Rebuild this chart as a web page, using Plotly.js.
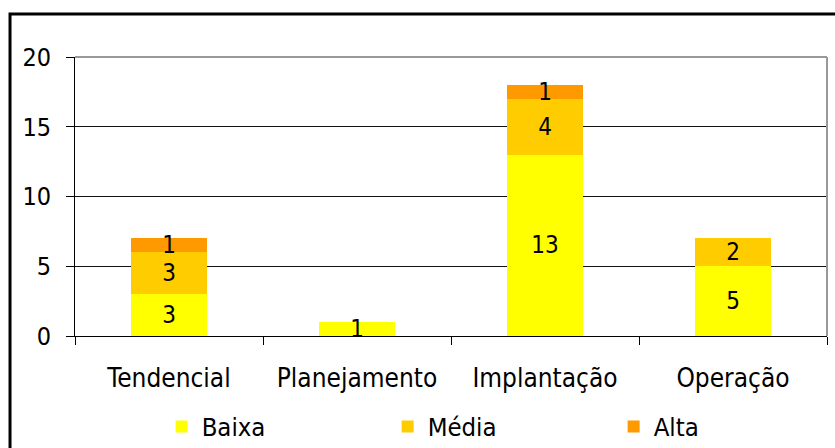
<!DOCTYPE html>
<html>
<head>
<meta charset="utf-8">
<script src="https://cdn.plot.ly/plotly-3.0.1.min.js"></script>
<style>
html,body{margin:0;padding:0;background:#fff;}
#chart{width:835px;height:448px;}
</style>
</head>
<body>
<div id="chart"></div>
<script>
var categories = ['Tendencial', 'Planejamento', 'Implantação', 'Operação'];
var seriesNames = ['Baixa', 'Média', 'Alta'];
var baixa = [3, 1, 13, 5];
var media = [3, 0, 4, 2];
var alta = [1, 0, 1, 0];
var yTicks = [0, 5, 10, 15, 20];
var colors = ['#FFFF00', '#FFCC00', '#FF9900'];

var FONT = '"DejaVu Sans Condensed", "DejaVu Sans", sans-serif';
var values = [baixa, media, alta];

var traces = values.map(function (vals, i) {
  return {
    type: 'bar',
    name: seriesNames[i],
    x: categories,
    y: vals,
    text: vals.map(function (v) { return v ? String(v) : ''; }),
    textposition: 'inside',
    insidetextanchor: 'middle',
    constraintext: 'none',
    textangle: 0,
    insidetextfont: {family: FONT, size: 24, color: '#000'},
    marker: {color: colors[i], line: {width: 0}},
    hoverinfo: 'none'
  };
});

var layout = {
  width: 835,
  height: 448,
  barmode: 'stack',
  bargap: 0.596,
  paper_bgcolor: '#fff',
  plot_bgcolor: '#fff',
  margin: {l: 75, r: 8, t: 57, b: 112, pad: 0, autoexpand: false},
  font: {family: FONT, size: 24, color: '#000'},
  showlegend: true,
  legend: {
    orientation: 'h',
    x: 0.566, xanchor: 'center',
    y: -0.326, yanchor: 'middle',
    entrywidth: 181,
    font: {family: FONT, size: 25.5, color: '#000'},
    traceorder: 'normal'
  },
  xaxis: {
    type: 'category',
    range: [-0.5, 3.5],
    tickson: 'boundaries',
    ticks: 'outside',
    ticklen: 8,
    tickcolor: '#000',
    showline: true,
    linecolor: '#000',
    linewidth: 1,
    showgrid: false,
    zeroline: false,
    ticklabelstandoff: 19,
    tickfont: {family: FONT, size: 26, color: '#000'},
    fixedrange: true
  },
  yaxis: {
    range: [0, 20],
    tickvals: yTicks,
    ticks: 'outside',
    ticklen: 8,
    tickcolor: '#000',
    showline: true,
    linecolor: '#000',
    linewidth: 1,
    showgrid: true,
    gridcolor: '#111',
    gridwidth: 1,
    zeroline: false,
    ticklabelstandoff: 10,
    tickfont: {family: FONT, size: 25, color: '#000'},
    fixedrange: true
  },
  shapes: [
    {type: 'line', xref: 'paper', yref: 'paper', x0: 0, x1: 1, y0: 1, y1: 1,
     line: {color: '#999', width: 2}, layer: 'above'},
    {type: 'line', xref: 'paper', yref: 'paper', x0: 1, x1: 1, y0: 0, y1: 1,
     line: {color: '#999', width: 2}, layer: 'above'},
    {type: 'rect', xref: 'paper', yref: 'paper', x0: -0.0864, x1: 1.2, y0: -1, y1: 1.154,
     line: {color: '#000', width: 3}, fillcolor: 'rgba(0,0,0,0)', layer: 'above'}
  ]
};

Plotly.newPlot('chart', traces, layout, {displayModeBar: false, staticPlot: true});
</script>
</body>
</html>
